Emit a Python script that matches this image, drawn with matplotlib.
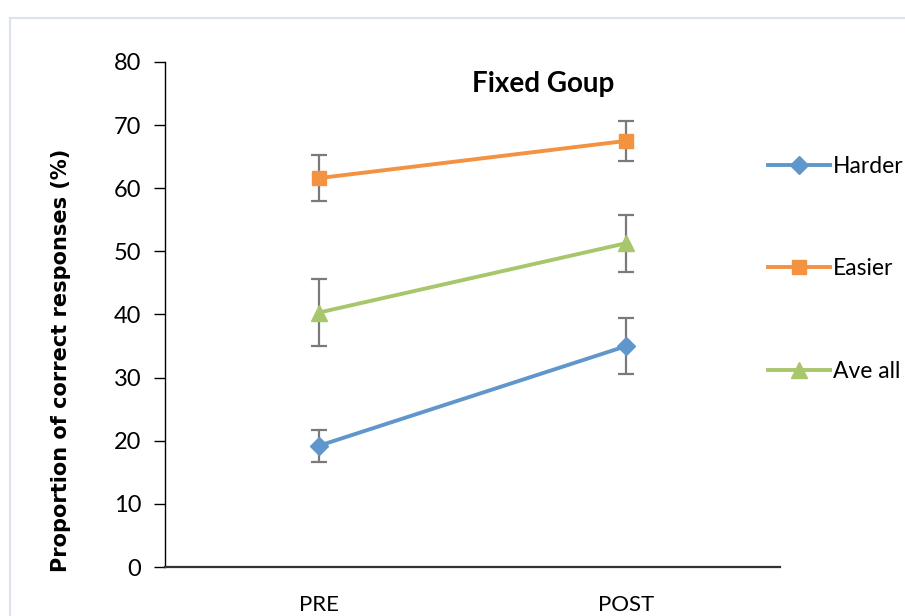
import numpy as np
import matplotlib.pyplot as plt
from matplotlib.patches import Rectangle

phases = ['PRE', 'POST']
harder = [19.2, 35.0]
harder_err = [2.5, 4.5]
easier = [61.6, 67.5]
easier_err = [3.6, 3.2]
ave_all = [40.3, 51.3]
ave_all_err = [5.3, 4.5]

plt.rcParams['font.family'] = ['Lato', 'DejaVu Sans']

fig = plt.figure(figsize=(9.05, 6.16), dpi=100)
fig.patches.append(Rectangle((0.011, -0.1), 1.2, 1.071, transform=fig.transFigure,
                             fill=False, edgecolor='#dce3ef', linewidth=1.5))
ax = fig.add_axes([0.1823, 0.0795, 0.6796, 0.8199])

x = np.arange(len(phases)) + 0.5
series = [
    ('Harder', harder, harder_err, '#5f97cd', 'D', 9),
    ('Easier', easier, easier_err, '#f39240', 's', 10),
    ('Ave all', ave_all, ave_all_err, '#a8c66b', '^', 11),
]
for name, vals, err, col, mk, ms in series:
    ax.errorbar(x, vals, yerr=err, fmt='none', ecolor='#7a7a7a', elinewidth=1.6,
                capsize=6, capthick=1.6, zorder=2)
    ax.plot(x, vals, color=col, linewidth=2.8, marker=mk, markersize=ms,
            label=name, zorder=3)

ax.set_xlim(0, 2)
ax.set_ylim(0, 80)
ax.set_yticks(np.arange(0, 81, 10))
ax.set_xticks(x)
ax.set_xticklabels(phases)
ax.tick_params(axis='x', length=0, labelsize=16, pad=20)
ax.tick_params(axis='y', length=8, width=1, labelsize=17, pad=9)
ax.spines['top'].set_visible(False)
ax.spines['right'].set_visible(False)
ax.spines['left'].set_linewidth(1)
ax.spines['bottom'].set_linewidth(1.6)
ax.spines['bottom'].set_color('#333333')

ax.set_ylabel('Proportion of correct responses (%)', family='DejaVu Sans',
              fontweight='bold', fontsize=15)
ax.yaxis.set_label_coords(-0.152, 0.41)
ax.set_title('Fixed Goup', fontweight='bold', fontsize=20, x=0.615, y=0.925)

fig.legend(loc='upper left', bbox_to_anchor=(0.849, 0.747), frameon=False,
           fontsize=16.5, handlelength=2.7, handletextpad=0.1, labelspacing=3.55,
           borderpad=0, borderaxespad=0)

fig.savefig('out.png', dpi=100)
